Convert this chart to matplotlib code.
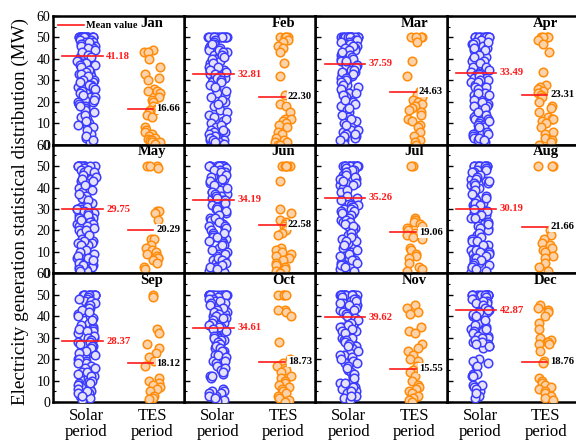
import matplotlib
matplotlib.use("Agg")
import matplotlib.pyplot as plt
from matplotlib.lines import Line2D
import numpy as np

plt.rcParams['font.family'] = ['Liberation Serif', 'DejaVu Serif']
plt.rcParams['mathtext.fontset'] = 'stix'

months = ["Jan", "Feb", "Mar", "Apr", "May", "Jun",
          "Jul", "Aug", "Sep", "Oct", "Nov", "Dec"]
categories = ["Solar\nperiod", "TES\nperiod"]

# monthly mean output (MW) for each period
solar_mean = [41.18, 32.81, 37.59, 33.49, 29.75, 34.19,
              35.26, 30.19, 28.37, 34.61, 39.62, 42.87]
tes_mean = [16.66, 22.30, 24.63, 23.31, 20.29, 22.58,
            19.06, 21.66, 18.12, 18.73, 15.55, 18.76]

# hourly output samples (MW), solar period
solar_jan = [50, 50, 50, 50, 50, 50, 50, 50, 50, 50, 50, 50, 50, 50, 50, 50, 50, 50,
             49, 49, 48, 48, 47, 47, 46, 46, 45, 45, 44, 44, 43, 42, 41, 40, 40, 39, 39,
             38, 37, 36, 35, 34, 33, 32, 31, 30, 29, 28, 27, 26, 26, 25, 25, 24, 22, 21,
             20, 19, 18, 17, 16, 13, 12, 10, 9, 8, 5, 3, 1,
             48, 47, 46, 45, 44, 43, 42, 41, 38, 37, 36, 35, 34, 33, 32, 30, 29, 28, 27,
             26, 25, 24, 23, 22, 21, 20, 19, 18, 15, 14, 11, 9, 7, 4, 2]
solar_feb = [50, 50, 50, 50, 50, 50, 50, 50, 50, 50, 50, 50, 50, 50,
             49, 48, 47, 46, 45, 44, 43, 42, 41, 40, 39, 38, 37, 36, 35, 34, 33, 32, 31,
             30, 29, 28, 26, 24, 23, 20, 18, 16, 14, 13, 11, 10, 8, 7, 6, 5, 4, 4, 3, 3,
             2, 2, 1, 1, 0.5, 0,
             47, 45, 44, 43, 42, 41, 40, 38, 36, 35, 34, 33, 32, 31, 30, 29, 27, 25, 22,
             21, 19, 15, 12, 9, 7, 6, 5, 4, 3, 2, 1, 0.5]
solar_mar = [50, 50, 50, 50, 50, 50, 50, 50, 50, 50, 50, 50, 50, 50, 50, 50,
             49, 49, 48, 47, 46, 45, 44, 43, 42, 41, 40, 39, 38, 37, 36, 35, 34, 33, 32,
             31, 30, 29, 28, 27, 25, 24, 23, 22, 20, 19, 18, 16, 15, 13, 11, 10, 9, 8, 7,
             6, 5, 4, 3, 2, 1, 0.5,
             48, 47, 46, 45, 44, 43, 42, 41, 40, 39, 37, 36, 35, 34, 33, 31, 30, 29, 28,
             26, 24, 23, 21, 19, 17, 14, 12, 9, 7, 5, 4, 2]
solar_apr = [50, 50, 50, 50, 50, 50, 50, 50, 50, 50, 50, 50, 50, 50,
             49, 48, 47, 46, 45, 44, 43, 42, 41, 40, 39, 38, 37, 36, 35, 34, 33, 32, 31,
             30, 29, 28, 27, 26, 25, 24, 23, 22, 21, 20, 19, 18, 17, 16, 15, 14, 13, 12,
             11, 10, 9, 8, 7, 6, 5, 4, 3, 2, 1,
             48, 47, 45, 44, 42, 41, 39, 38, 36, 35, 33, 32, 30, 29, 27, 26, 24, 23, 21,
             20, 18, 17, 15, 14, 12, 11, 9, 8, 6, 5, 3, 2]
solar_may = [50, 50, 50, 50, 50, 50, 50, 50, 50, 50, 50, 50,
             49, 48, 47, 46, 45, 44, 43, 42, 40, 39, 38, 36, 35, 33, 32, 31, 30, 30, 29,
             28, 27, 26, 25, 24, 24, 23, 22, 21, 20, 19, 16, 15, 14, 13, 12, 10, 9, 8, 7,
             6, 5, 4, 3, 3, 2, 1,
             48, 47, 46, 45, 44, 43, 41, 37, 34, 31, 30, 29, 28, 27, 26, 25, 24, 23, 22,
             21, 20, 18, 15, 14, 13, 11, 10, 8, 7, 6, 5, 4, 2, 1]
solar_jun = [50, 50, 50, 50, 50, 50, 50, 50, 50, 50, 50, 50, 50, 50,
             49, 48, 47, 46, 45, 44, 43, 42, 41, 40, 39, 38, 37, 36, 35, 34, 33, 32, 30,
             29, 28, 27, 26, 25, 24, 23, 22, 21, 20, 19, 18, 17, 16, 15, 14, 13, 12, 10,
             9, 8, 7, 6, 5, 4, 3, 2, 1, 0.5,
             48, 47, 46, 45, 44, 43, 41, 40, 38, 37, 36, 35, 34, 33, 31, 30, 29, 27, 26,
             24, 22, 21, 19, 17, 15, 13, 11, 9, 7, 6, 5, 4, 3, 2]
solar_jul = [50, 50, 50, 50, 50, 50, 50, 50, 50, 50, 50, 50, 50, 50, 50,
             49, 48, 47, 46, 45, 44, 43, 42, 41, 40, 38, 35, 33, 32, 31, 30, 29, 28, 27,
             26, 25, 24, 23, 22, 21, 20, 18, 17, 16, 15, 14, 12, 10, 9, 8, 7, 6, 5, 4, 3,
             2, 1,
             48, 47, 46, 45, 44, 43, 42, 41, 39, 36, 34, 32, 31, 30, 29, 28, 27, 26, 25,
             24, 23, 22, 19, 17, 15, 13, 11, 9, 8, 6, 5, 4, 3]
solar_aug = [50, 50, 50, 50, 50, 50, 50, 50, 50, 50, 50, 50,
             49, 48, 47, 46, 45, 44, 43, 42, 41, 40, 39, 38, 37, 36, 35, 34, 33, 32, 31,
             30, 28, 27, 26, 25, 24, 23, 22, 21, 20, 18, 16, 15, 14, 13, 12, 11, 10, 9,
             8, 7, 6, 5, 4, 3, 2, 1, 0.5,
             48, 47, 46, 45, 44, 43, 42, 41, 39, 37, 35, 33, 32, 30, 29, 27, 26, 24, 23,
             21, 19, 17, 15, 13, 11, 10, 9, 8, 7, 6, 5, 4, 3, 2]
solar_sep = [50, 50, 50, 50, 50, 50, 50, 50, 50, 50, 50,
             49, 48, 47, 46, 45, 44, 43, 42, 41, 40, 39, 37, 35, 34, 33, 32, 31, 30, 29,
             28, 27, 26, 25, 24, 23, 22, 21, 20, 19, 18, 17, 16, 15, 14, 13, 12, 11, 10,
             9, 8, 7, 6, 5, 4, 3, 2, 1,
             48, 47, 46, 45, 44, 43, 42, 40, 38, 36, 34, 33, 31, 30, 29, 28, 27, 26, 25,
             24, 23, 22, 20, 18, 16, 14, 12, 10, 9, 8, 6, 5, 4, 3]
solar_oct = [50, 50, 50, 50, 50, 50, 50, 50, 50, 50, 50, 50, 50, 50,
             49, 48, 47, 46, 45, 44, 43, 42, 41, 40, 39, 38, 37, 36, 35, 34, 33, 32, 31,
             30, 29, 28, 27, 26, 25, 24, 23, 22, 20, 19, 18, 17, 15, 13, 12, 11, 6, 5, 4,
             3, 2, 1, 0.5,
             48, 47, 46, 45, 44, 43, 42, 41, 40, 39, 38, 37, 36, 35, 34, 33, 31, 30, 29,
             28, 27, 26, 25, 24, 22, 21, 19, 16, 14, 12, 5, 4, 3, 2]
solar_nov = [50, 50, 50, 50, 50, 50, 50, 50, 50, 50, 50, 50, 50, 50, 50, 50, 50,
             49, 48, 47, 46, 45, 44, 43, 42, 41, 40, 39, 38, 37, 36, 35, 34, 33, 32, 31,
             30, 29, 28, 27, 26, 25, 23, 22, 21, 19, 18, 17, 15, 14, 12, 11, 10, 9, 8, 7,
             6, 5, 4, 3, 2, 1,
             48, 47, 46, 45, 44, 43, 42, 41, 40, 39, 38, 37, 36, 35, 34, 33, 32, 30, 29,
             28, 27, 26, 24, 22, 20, 18, 16, 13, 11, 9, 7, 5, 3]
solar_dec = [50, 50, 50, 50, 50, 50, 50, 50, 50, 50, 50, 50, 50, 50, 50,
             49, 48, 47, 46, 45, 44, 43, 42, 41, 40, 39, 37, 35, 34, 33, 32, 31, 30, 29,
             28, 27, 26, 25, 20, 18, 17, 13, 12, 8, 7, 6, 5, 3, 2,
             48, 47, 46, 45, 44, 43, 42, 41, 40, 38, 36, 34, 33, 32, 31, 30, 29, 28, 27,
             26, 19, 17, 13, 12, 8, 6, 4]

# hourly output samples (MW), TES period
tes_jan = [44, 43, 43, 40, 36, 33, 31, 30, 26, 25, 25, 24, 22, 21, 20, 18, 17, 16, 16,
           15, 14, 13, 8, 7, 6, 5, 4, 3, 2.5, 2, 2, 1, 1, 0.5]
tes_feb = [50, 50, 50, 50, 49, 48, 46, 45, 43, 38, 32, 23, 19, 18, 15, 12, 12, 11, 10,
           9, 8, 6, 5, 3, 2, 1, 1, 0, 0]
tes_mar = [50, 50, 50, 50, 48, 39, 32, 25, 23, 22, 21, 20, 19, 18, 17, 16, 15, 14, 12,
           11, 9, 8, 6, 4, 2, 1, 0]
tes_apr = [50, 50, 50, 50, 49, 47, 43, 34, 28, 27, 26, 25, 24, 23, 22, 20, 18, 17, 15,
           13, 12, 12, 11, 10, 8, 6, 5, 3, 2, 1, 0]
tes_may = [50, 50, 50, 49, 29, 29, 28, 25, 16, 16, 13, 12, 11, 10, 9, 8, 7, 7, 6, 5,
           3, 2]
tes_jun = [50, 50, 50, 50, 50, 43, 30, 28, 25, 24, 23, 22, 21, 20, 19, 18, 12, 11, 10,
           9, 8, 7, 6, 5, 4, 3, 2, 1, 0]
tes_jul = [50, 50, 26, 25, 24, 23, 22, 21, 20, 19, 18, 17, 16, 12, 11, 9, 8, 7, 5, 3,
           2, 1]
tes_aug = [50, 50, 50, 20, 18, 16, 14, 13, 12, 11, 10, 8, 7, 5, 3, 1]
tes_sep = [50, 49, 34, 32, 27, 25, 23, 21, 19, 17, 11, 10, 9, 8, 7, 6, 5, 3, 2, 1.5]
tes_oct = [50, 50, 50, 50, 43, 43, 42, 40, 28, 20, 18, 17, 16, 15, 14, 12, 11, 10, 9,
           8, 7, 6, 5, 4, 3, 2, 1, 0]
tes_nov = [45, 44, 42, 41, 35, 33, 32, 27, 25, 24, 22, 20, 19, 17, 15, 14, 12, 10, 8,
           7, 6, 5, 4, 3, 2, 1, 0]
tes_dec = [45, 44, 43, 42, 40, 37, 34, 30, 29, 28, 28, 27, 27, 24, 19, 18, 11, 10, 9,
           8, 7, 6, 5, 4, 3, 2, 1]

solar_data = [solar_jan, solar_feb, solar_mar, solar_apr, solar_may, solar_jun,
              solar_jul, solar_aug, solar_sep, solar_oct, solar_nov, solar_dec]
tes_data = [tes_jan, tes_feb, tes_mar, tes_apr, tes_may, tes_jun,
            tes_jul, tes_aug, tes_sep, tes_oct, tes_nov, tes_dec]

solar_edge, solar_face = "#3c3cff", "#e6e2f7"
tes_edge, tes_face = "#ff8c0a", "#fcd2aa"
mean_color = "#ff1a1a"


def jitter(n, center, half_width, seed):
    # sideways offsets from an integer hash of the point index (repeatable)
    mask = np.uint64(0xFFFFFFFF)
    h = (np.arange(n, dtype=np.uint64) + np.uint64(seed * 1009)) * np.uint64(0x9E3779B1) & mask
    h ^= h >> np.uint64(15)
    h = (h * np.uint64(0x85EBCA6B)) & mask
    h ^= h >> np.uint64(13)
    h = (h * np.uint64(0xC2B2AE35)) & mask
    h ^= h >> np.uint64(16)
    k = h.astype(float) / 4294967296.0
    return center + (k - 0.5) * 2 * half_width


fig, axes = plt.subplots(3, 4, figsize=(5.76, 4.42), dpi=100,
                         sharex=True, sharey=True,
                         gridspec_kw=dict(wspace=0, hspace=0))
fig.subplots_adjust(left=0.092, right=1.003, top=0.964, bottom=0.0905)

for i, ax in enumerate(axes.flat):
    row, col = divmod(i, 4)
    ax.set_zorder(10 - col)
    s_vals = solar_data[i]
    t_vals = tes_data[i]

    ax.scatter(jitter(len(s_vals), 1, 0.14, i + 1), s_vals, s=38, marker='o',
               facecolor=solar_face, edgecolor=solar_edge, linewidth=1.1, zorder=3)
    ax.scatter(jitter(len(t_vals), 2, 0.12, i + 31), t_vals, s=38, marker='o',
               facecolor=tes_face, edgecolor=tes_edge, linewidth=1.1, zorder=3)

    # mean markers with values
    sm = solar_mean[i]
    tm = tes_mean[i]
    ax.plot([0.63, 1.25], [sm, sm], color=mean_color, lw=1.2, zorder=4)
    ax.text(1.30, sm, f"{sm:.2f}", color=mean_color, fontsize=7.7,
            fontweight='bold', va='center', ha='left', zorder=5)
    ax.plot([1.635, 2.02], [tm, tm], color=mean_color, lw=1.2, zorder=4)
    ax.text(2.07, tm, f"{tm:.2f}", color='black', fontsize=7.7,
            fontweight='bold', va='center', ha='left', zorder=6, clip_on=False,
            bbox=dict(facecolor='white', edgecolor='none', pad=0.6))

    ax.text(2.0, 56.6, months[i], fontsize=10.5, fontweight='bold',
            ha='center', va='center', zorder=6)

    ax.set_xlim(0.49, 2.49)
    ax.set_ylim(0, 60)
    ax.set_yticks(np.arange(0, 61, 10))
    ax.set_yticks(np.arange(5, 60, 10), minor=True)
    ax.tick_params(axis='y', which='major', direction='in', length=4, width=1,
                   labelsize=10, pad=2, right=False)
    ax.tick_params(axis='y', which='minor', direction='in', length=2, width=0.8)
    ax.tick_params(axis='x', which='both', length=0, labelsize=12, pad=4)
    for sp in ax.spines.values():
        sp.set_linewidth(1.8)

    if col == 0:
        labels = [str(v) for v in range(0, 61, 10)]
        if row < 2:
            labels[0] = ""
        ax.set_yticklabels(labels)

axes[0, 0].set_xticks([1, 2])
for ax in axes[2]:
    ax.set_xticks([1, 2])
    ax.set_xticklabels(categories, linespacing=1.05)

# legend entry for the mean lines
axes[0, 0].legend(handles=[Line2D([0], [0], color=mean_color, lw=1.2)],
                  labels=["Mean value"], loc='upper left',
                  bbox_to_anchor=(-0.02, 1.015), frameon=False,
                  handlelength=2.6, handletextpad=0.2, borderpad=0.2,
                  prop=dict(size=7.4, weight='bold'))

fig.text(0.036, 0.522, "Electricity generation statistical distribution (MW)",
         rotation=90, ha='center', va='center', fontsize=13.8)

fig.savefig("out.png", dpi=100)
